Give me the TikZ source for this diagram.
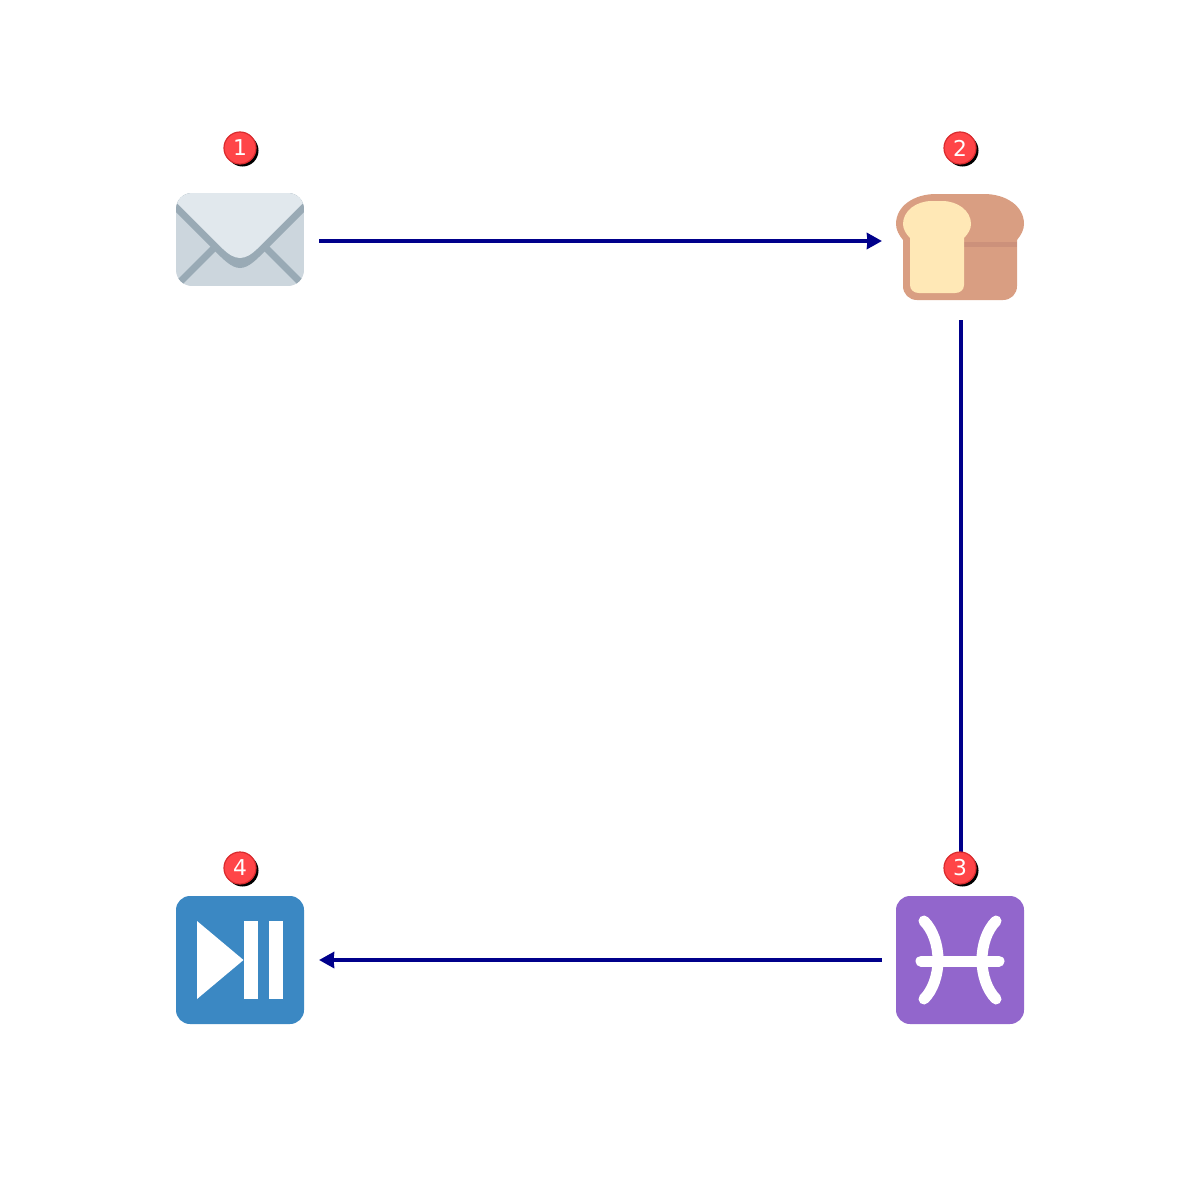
\documentclass[tikz,border=0pt]{standalone}
\usepackage{fontspec}
\setmainfont{DejaVu Sans}
\usetikzlibrary{arrows.meta,shadows}
\definecolor{flowblue}{HTML}{00008B}
\definecolor{badgered}{HTML}{FF4548}
\definecolor{badgeedge}{HTML}{D92B2E}
\definecolor{mailbody}{HTML}{CCD6DD}
\definecolor{mailflap}{HTML}{E1E8ED}
\definecolor{mailband}{HTML}{99AAB5}
\definecolor{breadcrust}{HTML}{D99E82}
\definecolor{breadband}{HTML}{CC917B}
\definecolor{breadslice}{HTML}{FFE8B6}
\definecolor{piscestile}{HTML}{9266CC}
\definecolor{playtile}{HTML}{3B88C3}
\tikzset{
  iconbox/.style={minimum size=1.28cm,inner sep=0pt,outer sep=0.15cm},
  badgenode/.style={circle,minimum size=0.32cm,inner sep=0pt,fill=badgered,draw=badgeedge,
    line width=0.012cm,text=white,font=\fontsize{6.2pt}{7pt}\selectfont,
    drop shadow={opacity=1,fill=black,shadow xshift=0.025cm,shadow yshift=-0.025cm}},
  flowline/.style={draw=flowblue,line width=0.04cm},
  flowarrow/.style={flowline,-{Stealth[length=0.15cm,width=0.16cm,inset=0.005cm]}},
  sign/.style={white,line width=0.11cm,line cap=round}
}
\begin{document}
\begin{tikzpicture}[x=0.01cm,y=-0.01cm]
\useasboundingbox (0,0) rectangle (1200,1200);
% anchors for the connectors
\node[iconbox] (mail) at (240,241) {};
\node[iconbox] (bread) at (961,241) {};
\node[iconbox] (pisces) at (961,960) {};
\node[iconbox] (playpause) at (240,960) {};
% mail
\begin{scope}
\clip[rounded corners=0.16cm] (176,193) rectangle (304,286);
\fill[mailbody] (176,193) rectangle (304,286);
\draw[mailband,line width=0.07cm] (175,287) -- (218,244) (305,287) -- (262,244);
\fill[mailband] (176,212) -- (215,251) .. controls (222,258) and (231,268) .. (240,268)
  .. controls (249,268) and (258,258) .. (265,251) -- (304,212) -- (304,193) -- (176,193) -- cycle;
\fill[mailflap] (176,202) -- (223,249) .. controls (228,254) and (234,258) .. (240,258)
  .. controls (246,258) and (252,254) .. (257,249) -- (304,202) -- (304,193) -- (176,193) -- cycle;
\end{scope}
% bread
\fill[breadcrust] (903,240) .. controls (899,235) and (896,230) .. (896,224)
  .. controls (896,206) and (914,194) .. (936,194) -- (984,194)
  .. controls (1006,194) and (1024,206) .. (1024,224) .. controls (1024,230) and (1021,235) .. (1017,240)
  -- (1017,286) .. controls (1017,294) and (1011,300) .. (1003,300) -- (917,300)
  .. controls (909,300) and (903,294) .. (903,286) -- cycle;
\fill[breadband] (964,242) rectangle (1017,247);
\fill[breadslice] (910,238) .. controls (906,234) and (903,229) .. (903,224)
  .. controls (903,211) and (916,201) .. (932,201) -- (942,201)
  .. controls (958,201) and (971,211) .. (971,224) .. controls (971,229) and (968,234) .. (964,238)
  -- (964,285) .. controls (964,290) and (960,293) .. (955,293) -- (919,293)
  .. controls (914,293) and (910,290) .. (910,285) -- cycle;
% pisces
\fill[piscestile,rounded corners=0.14cm] (896,896) rectangle (1024,1024);
\draw[sign] (921,961) -- (999,961);
\draw[sign] (924,921) .. controls (933,930) and (938,945) .. (938,960)
  .. controls (938,975) and (933,990) .. (924,999);
\draw[sign] (996,921) .. controls (987,930) and (982,945) .. (982,960)
  .. controls (982,975) and (987,990) .. (996,999);
% play and pause
\fill[playtile,rounded corners=0.14cm] (176,896) rectangle (304,1024);
\fill[white] (197,921) -- (243.5,960) -- (197,999) -- cycle;
\fill[white] (243.5,921) rectangle (258,999);
\fill[white] (268.5,921) rectangle (283,999);
% connectors
\draw[flowarrow] (mail) -- (bread);
\draw[flowline] (bread) -- (pisces);
\draw[flowarrow] (pisces) -- (playpause);
% badges
\node[badgenode] (badgeone) at (240,148) {1};
\node[badgenode] (badgetwo) at (960,148) {2};
\node[badgenode] (badgethree) at (960,868) {3};
\node[badgenode] (badgefour) at (240,868) {4};
\end{tikzpicture}
\end{document}
